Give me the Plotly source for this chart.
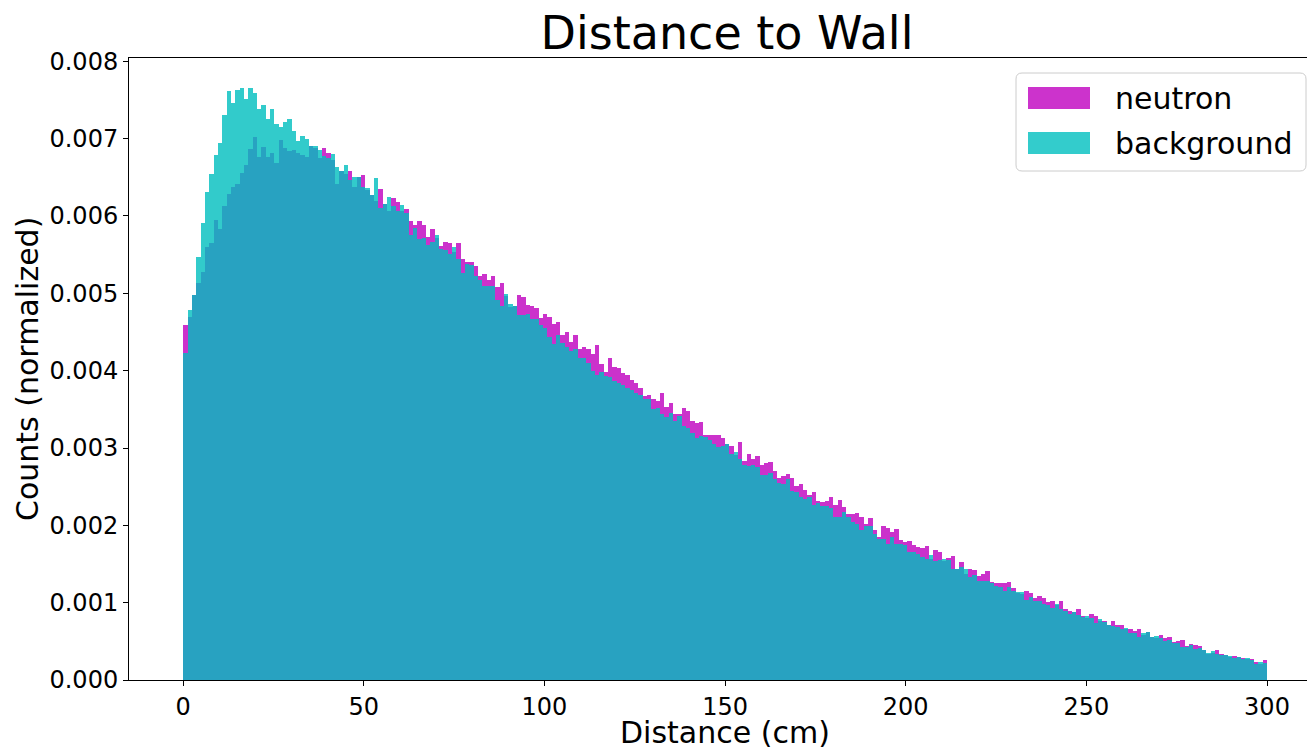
import numpy as np
import plotly.graph_objects as go

# ---- data ----
bin_lo, bin_hi, n_bins = 0.0, 300.0, 250

neutron = [
0.00459,0.00470,0.00498,0.00513,0.00527,0.00560,0.00565,0.00595,0.00583,0.00613,
0.00629,0.00638,0.00641,0.00655,0.00666,0.00686,0.00702,0.00676,0.00689,0.00676,
0.00682,0.00669,0.00698,0.00688,0.00684,0.00685,0.00682,0.00679,0.00676,0.00691,
0.00688,0.00675,0.00688,0.00682,0.00673,0.00641,0.00658,0.00654,0.00658,0.00637,
0.00650,0.00653,0.00633,0.00627,0.00620,0.00635,0.00616,0.00606,0.00623,0.00618,
0.00606,0.00609,0.00593,0.00589,0.00593,0.00588,0.00573,0.00583,0.00571,0.00561,
0.00567,0.00565,0.00553,0.00565,0.00544,0.00540,0.00540,0.00535,0.00523,0.00525,
0.00517,0.00522,0.00508,0.00513,0.00497,0.00482,0.00483,0.00498,0.00495,0.00485,
0.00483,0.00481,0.00468,0.00473,0.00469,0.00460,0.00463,0.00446,0.00450,0.00437,
0.00446,0.00428,0.00430,0.00428,0.00421,0.00433,0.00408,0.00398,0.00416,0.00405,
0.00403,0.00397,0.00395,0.00388,0.00384,0.00378,0.00367,0.00368,0.00364,0.00361,
0.00371,0.00353,0.00358,0.00344,0.00344,0.00352,0.00348,0.00335,0.00332,0.00333,
0.00317,0.00317,0.00317,0.00317,0.00313,0.00305,0.00302,0.00291,0.00308,0.00283,
0.00292,0.00286,0.00290,0.00278,0.00280,0.00282,0.00270,0.00261,0.00264,0.00266,
0.00261,0.00251,0.00253,0.00246,0.00239,0.00243,0.00231,0.00230,0.00231,0.00237,
0.00226,0.00233,0.00224,0.00215,0.00215,0.00216,0.00211,0.00202,0.00209,0.00194,
0.00185,0.00199,0.00196,0.00191,0.00195,0.00181,0.00178,0.00180,0.00174,0.00172,
0.00171,0.00173,0.00156,0.00168,0.00165,0.00154,0.00158,0.00160,0.00143,0.00153,
0.00137,0.00143,0.00142,0.00134,0.00137,0.00141,0.00127,0.00125,0.00125,0.00125,
0.00127,0.00119,0.00112,0.00111,0.00115,0.00112,0.00106,0.00109,0.00106,0.00101,
0.00102,0.00097,0.00102,0.00092,0.00089,0.00088,0.00092,0.00083,0.00080,0.00085,
0.00083,0.00076,0.00076,0.00071,0.00076,0.00071,0.00071,0.00066,0.00066,0.00063,
0.00066,0.00058,0.00062,0.00056,0.00054,0.00058,0.00054,0.00056,0.00049,0.00050,
0.00052,0.00044,0.00047,0.00045,0.00044,0.00039,0.00034,0.00035,0.00039,0.00034,
0.00032,0.00030,0.00031,0.00030,0.00028,0.00027,0.00027,0.00023,0.00021,0.00026,
]

background = [
0.00423,0.00479,0.00498,0.00547,0.00591,0.00631,0.00654,0.00679,0.00694,0.00731,
0.00761,0.00746,0.00763,0.00765,0.00751,0.00766,0.00759,0.00738,0.00744,0.00726,
0.00738,0.00719,0.00715,0.00721,0.00726,0.00710,0.00697,0.00703,0.00699,0.00691,
0.00690,0.00685,0.00677,0.00675,0.00680,0.00663,0.00658,0.00666,0.00647,0.00651,
0.00650,0.00637,0.00636,0.00627,0.00649,0.00610,0.00615,0.00624,0.00613,0.00606,
0.00614,0.00604,0.00576,0.00585,0.00570,0.00571,0.00563,0.00567,0.00576,0.00557,
0.00556,0.00551,0.00560,0.00545,0.00526,0.00538,0.00536,0.00523,0.00517,0.00510,
0.00509,0.00509,0.00491,0.00483,0.00499,0.00486,0.00483,0.00472,0.00472,0.00473,
0.00467,0.00467,0.00459,0.00455,0.00443,0.00434,0.00446,0.00436,0.00430,0.00425,
0.00428,0.00417,0.00416,0.00410,0.00399,0.00395,0.00398,0.00393,0.00392,0.00386,
0.00384,0.00381,0.00378,0.00375,0.00371,0.00368,0.00364,0.00363,0.00350,0.00352,
0.00344,0.00340,0.00345,0.00335,0.00341,0.00328,0.00326,0.00319,0.00313,0.00315,
0.00314,0.00310,0.00305,0.00301,0.00302,0.00305,0.00292,0.00295,0.00286,0.00278,
0.00277,0.00278,0.00275,0.00265,0.00265,0.00268,0.00260,0.00255,0.00253,0.00260,
0.00244,0.00243,0.00237,0.00234,0.00237,0.00226,0.00229,0.00225,0.00225,0.00222,
0.00211,0.00211,0.00217,0.00211,0.00204,0.00202,0.00194,0.00199,0.00199,0.00189,
0.00182,0.00182,0.00176,0.00185,0.00176,0.00176,0.00174,0.00165,0.00165,0.00163,
0.00159,0.00156,0.00162,0.00154,0.00155,0.00156,0.00155,0.00143,0.00143,0.00146,
0.00143,0.00133,0.00136,0.00128,0.00128,0.00128,0.00125,0.00121,0.00120,0.00115,
0.00120,0.00115,0.00114,0.00114,0.00103,0.00107,0.00102,0.00102,0.00098,0.00097,
0.00093,0.00098,0.00092,0.00089,0.00085,0.00088,0.00084,0.00081,0.00083,0.00080,
0.00074,0.00079,0.00075,0.00071,0.00070,0.00068,0.00066,0.00067,0.00061,0.00061,
0.00056,0.00061,0.00062,0.00056,0.00057,0.00054,0.00050,0.00052,0.00048,0.00048,
0.00043,0.00043,0.00045,0.00040,0.00041,0.00039,0.00035,0.00037,0.00034,0.00032,
0.00032,0.00031,0.00028,0.00030,0.00027,0.00028,0.00026,0.00021,0.00023,0.00022,
]

x_ticks = [0, 50, 100, 150, 200, 250, 300]
y_ticks = [0.000, 0.001, 0.002, 0.003, 0.004, 0.005, 0.006, 0.007, 0.008]
series_names = ["neutron", "background"]

# ---- styling ----
FONT = "DejaVu Sans"
C_NEU = "rgb(191,0,191)"
C_BKG = "rgb(0,191,191)"
ALPHA = 0.8

edges = np.linspace(bin_lo, bin_hi, n_bins + 1)
centers = (edges[:-1] + edges[1:]) / 2
width = edges[1] - edges[0]

# page coordinates of the reference; the figure sits 8px in (page body margin)
PAGE_W, PAGE_H, OFF = 1315, 747, 8
W, H = PAGE_W - OFF, PAGE_H - OFF
AX_L, AX_R, AX_T, AX_B = 129, PAGE_W, 58, 680   # plot area in page px
L, R, T, B = AX_L - OFF, PAGE_W - AX_R, AX_T - OFF, PAGE_H - AX_B
pw, ph = AX_R - AX_L, AX_B - AX_T

def px(x):
    return (x - AX_L) / pw

def py(y):
    return (AX_B - y) / ph

fig = go.Figure()
fig.add_trace(go.Bar(x=centers, y=neutron, width=width, name=series_names[0],
                     marker=dict(color=C_NEU, line=dict(width=0)), opacity=ALPHA))
fig.add_trace(go.Bar(x=centers, y=background, width=width, name=series_names[1],
                     marker=dict(color=C_BKG, line=dict(width=0)), opacity=ALPHA))

x_right = 300 + (AX_R - 1267) / ((1267 - 183) / 300)

fig.update_layout(
    width=W, height=H,
    margin=dict(l=L, r=R, t=T, b=B, pad=0),
    barmode="overlay", bargap=0,
    showlegend=False,
    plot_bgcolor="white", paper_bgcolor="white",
    font=dict(family=FONT, color="black"),
    title=dict(text="Distance to Wall", font=dict(size=46, family=FONT, color="black"),
               x=(727 - OFF) / W, xanchor="center", xref="container",
               y=1 - (33 - OFF) / H, yanchor="middle", yref="container"),
    xaxis=dict(range=[-15, x_right], tickvals=x_ticks, ticktext=[str(v) for v in x_ticks],
               showline=True, linecolor="black", linewidth=1, mirror=True,
               ticks="outside", ticklen=5, tickwidth=1, tickcolor="black",
               showgrid=False, zeroline=False, automargin=False,
               tickfont=dict(size=24, family=FONT, color="black")),
    yaxis=dict(range=[0, 0.008043], tickvals=y_ticks, ticktext=[f"{v:.3f}" for v in y_ticks],
               showline=True, linecolor="black", linewidth=1, mirror=False,
               ticks="outside", ticklen=5, tickwidth=1, tickcolor="black",
               showgrid=False, zeroline=False, automargin=False,
               tickfont=dict(size=24, family=FONT, color="black")),
)

# axis labels
fig.add_annotation(text="Distance (cm)", xref="paper", yref="paper",
                   x=px(725), y=py(732), xanchor="center", yanchor="middle",
                   showarrow=False, font=dict(size=30, family=FONT, color="black"))
fig.add_annotation(text="Counts (normalized)", xref="paper", yref="paper",
                   x=px(27), y=py(369), xanchor="center", yanchor="middle", textangle=-90,
                   showarrow=False, font=dict(size=30, family=FONT, color="black"))

# legend (matplotlib-style box with wide patches)
x0, x1, y0, y1 = px(1016), px(1306), py(171), py(73)
rx, ry = 6 / pw, 6 / ph
path = (f"M {x0+rx},{y1} L {x1-rx},{y1} Q {x1},{y1} {x1},{y1-ry} "
        f"L {x1},{y0+ry} Q {x1},{y0} {x1-rx},{y0} L {x0+rx},{y0} "
        f"Q {x0},{y0} {x0},{y0+ry} L {x0},{y1-ry} Q {x0},{y1} {x0+rx},{y1} Z")
fig.add_shape(type="path", path=path, xref="paper", yref="paper",
              fillcolor="rgba(255,255,255,0.8)", line=dict(color="#cccccc", width=1))
for name, col, yc in [(series_names[0], C_NEU, 98), (series_names[1], C_BKG, 143)]:
    fig.add_shape(type="rect", xref="paper", yref="paper",
                  x0=px(1028), x1=px(1090), y0=py(yc + 11), y1=py(yc - 11),
                  fillcolor=col, opacity=ALPHA, line=dict(width=0))
    fig.add_annotation(text=name, xref="paper", yref="paper",
                       x=px(1113), y=py(yc), xanchor="left", yanchor="middle",
                       showarrow=False, font=dict(size=30, family=FONT, color="black"))

fig.write_html("out.html", config={"displayModeBar": False})
